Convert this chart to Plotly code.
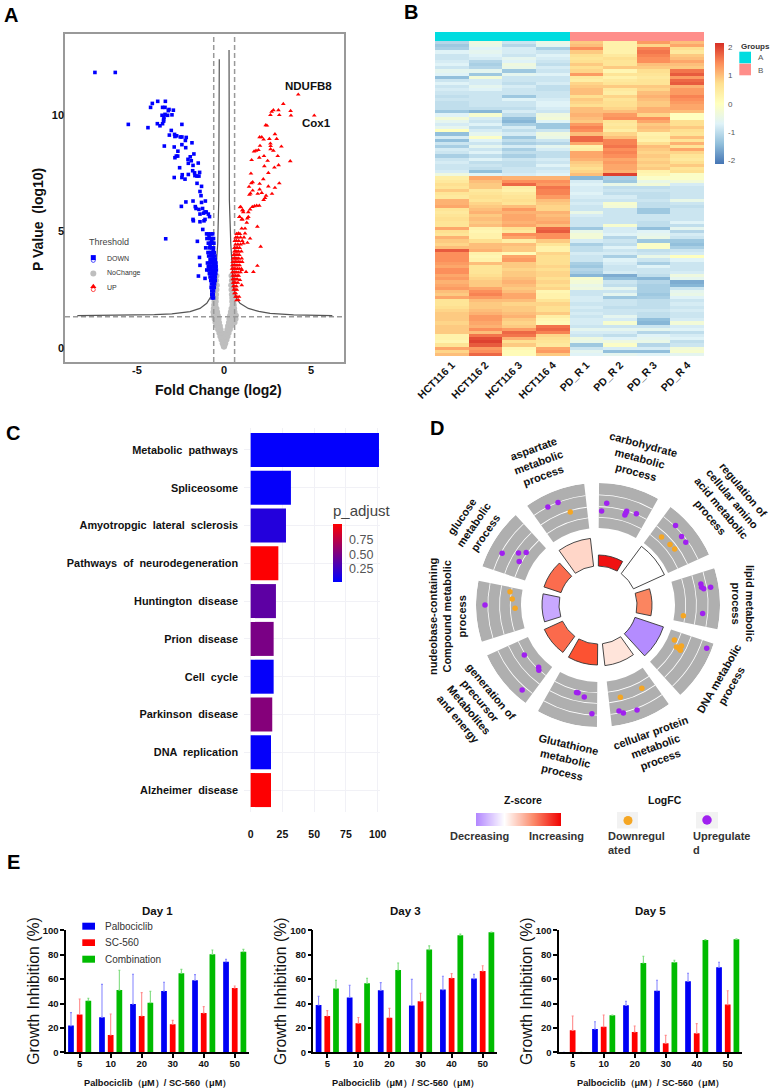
import numpy as np
import plotly.graph_objects as go

W, H = 775, 1091
FONT = "Liberation Sans"

# ---------- Panel A: volcano ----------
down_points = [
 (-7.42,11.83),(-6.25,11.83),(-3.81,10.59),(-3.37,10.59),(-4.12,10.50),(-4.22,10.33),(-3.53,10.33),(-3.39,10.33),
 (-3.16,10.24),(-2.91,10.21),(-3.20,10.19),(-3.39,10.03),(-3.56,9.99),(-3.24,9.99),(-2.99,10.01),(-3.45,9.90),
 (-3.47,9.81),(-3.47,9.74),(-3.83,9.63),(-3.68,9.54),(-3.53,9.63),(-2.42,9.60),(-5.50,9.60),(-4.37,9.46),
 (-3.03,9.34),(-3.14,9.14),(-2.84,9.17),(-2.82,9.08),(-2.72,9.11),(-2.51,9.06),(-2.42,9.06),(-2.17,9.04),
 (-2.22,8.91),(-1.84,8.81),(-2.42,8.73),(-3.43,8.67),(-2.86,8.63),(-2.20,8.60),(-2.65,8.45),(-1.73,8.33),
 (-2.66,8.24),(-2.74,8.24),(-2.82,8.17),(-1.94,8.21),(-2.07,8.10),(-1.88,8.04),(-2.05,7.93),(-1.48,7.94),
 (-1.78,7.84),(-2.55,7.74),(-1.80,7.61),(-1.40,7.54),(-1.69,7.52),(-2.40,7.44),(-2.05,7.45),(-1.67,7.40),
 (-1.55,7.38),(-1.44,7.38),(-2.86,7.32),(-2.42,7.32),(-2.24,7.25),(-1.55,7.07),(-1.29,6.94),(-1.38,6.72),
 (-1.32,6.54),(-1.07,6.31),(-1.78,6.31),(-1.29,6.25),(-2.19,6.27),(-2.45,6.08),(-1.65,6.07),(-1.61,5.99),
 (-1.44,5.95),(-1.23,5.99),(-1.09,5.84),(-1.02,5.84),(-1.38,5.75),(-1.17,5.79),(-0.90,5.75),(-0.83,5.64),
 (-1.78,5.52),(-1.09,5.52),(-1.76,5.46),(-1.38,5.42),(-1.15,5.46),(-1.22,5.09),(-3.35,4.69),(-1.53,4.58),
 (-1.41,3.89),(-1.38,3.55),(-1.47,3.09),(-1.09,2.99),(-0.99,3.35),
 (-1.00,4.90),(-0.90,4.90),(-0.75,4.90),(-0.65,4.90),(-0.98,4.70),(-0.82,4.70),(-0.70,4.70),(-0.60,4.70),
 (-0.90,4.50),(-0.78,4.50),(-0.66,4.50),(-0.58,4.50),(-1.05,4.30),(-0.85,4.30),(-0.72,4.30),(-0.60,4.30),
 (-0.92,4.10),(-0.78,4.10),(-0.68,4.10),(-0.56,4.10),(-0.88,3.95),(-0.70,3.95),(-0.62,3.95),(-0.52,3.95),
 (-0.80,3.80),(-0.72,3.80),(-0.64,3.80),(-0.55,3.80),(-0.50,3.80),(-0.95,3.65),(-0.84,3.65),(-0.74,3.65),
 (-0.62,3.65),(-0.52,3.65),(-0.46,3.65),(-0.90,3.50),(-0.78,3.50),(-0.70,3.50),(-0.60,3.50),(-0.50,3.50),
 (-0.45,3.50),(-0.88,3.35),(-0.76,3.35),(-0.68,3.35),(-0.58,3.35),(-0.50,3.35),(-0.44,3.35),(-0.84,3.20),
 (-0.72,3.20),(-0.62,3.20),(-0.55,3.20),(-0.47,3.20),(-0.80,3.05),(-0.70,3.05),(-0.60,3.05),(-0.50,3.05),
 (-0.76,2.90),(-0.66,2.90),(-0.58,2.90),(-0.50,2.90),(-0.72,2.75),(-0.62,2.75),(-0.54,2.75),(-0.74,2.60),
 (-0.62,2.60),(-0.56,2.60),(-0.70,2.45),(-0.60,2.45),(-0.70,2.30),(-0.62,2.30),(-0.68,2.15),(-0.60,2.15),
 (-0.86,4.82),(-0.72,4.60),(-0.80,4.40),(-0.62,4.20),(-0.75,4.02),(-0.68,3.72),(-0.58,3.58),(-0.80,3.42),
 (-0.66,3.28),(-0.54,3.12),(-0.64,2.98),(-0.58,2.82),
]
up_points = [
 (4.27,10.88),(5.19,9.98),(3.41,10.48),(3.13,10.21),(3.83,10.18),(2.84,10.21),(2.74,10.14),(2.67,10.00),
 (3.18,10.00),(3.85,9.98),(2.40,9.57),(2.47,9.55),(2.93,9.18),(2.05,9.05),(2.17,9.05),(2.28,8.95),(2.61,8.98),
 (3.03,8.98),(2.67,8.78),(2.07,8.68),(2.68,8.67),(3.30,8.65),(1.98,8.50),(1.84,8.47),(1.73,8.44),(2.84,8.47),
 (2.68,8.54),(3.09,8.24),(2.30,8.24),(2.03,8.17),(1.59,8.07),(2.51,8.04),(3.81,8.02),(2.32,7.81),(3.14,7.85),
 (2.90,7.75),(2.55,7.52),(1.55,7.49),(2.26,7.25),(1.65,7.12),(1.57,7.08),(2.05,7.05),(3.18,7.07),(1.44,6.92),
 (2.55,6.94),(2.05,6.81),(1.65,6.76),(2.93,6.88),(2.17,6.66),(1.52,6.64),(1.46,6.58),(1.94,6.62),(2.76,6.62),
 (2.42,6.54),(2.36,6.44),(2.28,6.36),(2.03,6.11),(1.88,6.11),(1.75,6.09),(1.63,6.06),(1.50,5.95),(1.40,5.83),
 (1.06,5.92),(0.96,6.06),(1.11,5.83),(0.90,5.63),(1.06,5.52),(1.40,5.63),(0.92,6.04),(1.08,5.92),(0.89,5.63),
 (1.02,5.52),(1.31,5.38),(1.34,5.56),(1.21,5.13),(1.02,5.13),(1.92,5.21),(0.83,4.92),(1.21,4.92),(1.50,4.70),
 (1.35,4.52),(2.11,4.35),(1.11,4.49),(1.92,3.53),(1.69,3.27),(1.27,3.27),(1.02,3.35),(0.92,2.92),(1.02,2.70),
 (0.87,2.20),(0.83,2.06),
 (0.72,4.90),(0.82,4.90),(0.92,4.90),(0.68,4.75),(0.78,4.75),(0.95,4.75),(1.15,4.75),(0.62,4.60),(0.72,4.60),
 (0.85,4.60),(1.05,4.60),(0.66,4.45),(0.80,4.45),(0.95,4.45),(0.60,4.30),(0.70,4.30),(0.78,4.30),(0.90,4.30),
 (0.60,4.15),(0.66,4.15),(0.74,4.15),(0.84,4.15),(1.00,4.15),(0.55,4.00),(0.62,4.00),(0.70,4.00),(0.80,4.00),
 (0.88,4.00),(0.52,3.85),(0.60,3.85),(0.68,3.85),(0.75,3.85),(0.85,3.85),(1.02,3.85),(0.50,3.70),(0.58,3.70),
 (0.66,3.70),(0.74,3.70),(0.82,3.70),(0.92,3.70),(1.05,3.70),(0.48,3.55),(0.56,3.55),(0.62,3.55),(0.70,3.55),
 (0.80,3.55),(0.90,3.55),(0.46,3.40),(0.54,3.40),(0.60,3.40),(0.68,3.40),(0.78,3.40),(0.88,3.40),(1.00,3.40),
 (0.48,3.25),(0.56,3.25),(0.64,3.25),(0.72,3.25),(0.82,3.25),(0.95,3.25),(0.50,3.10),(0.58,3.10),(0.66,3.10),
 (0.76,3.10),(0.85,3.10),(0.50,2.95),(0.56,2.95),(0.62,2.95),(0.70,2.95),(0.78,2.95),(0.52,2.80),(0.60,2.80),
 (0.68,2.80),(0.80,2.80),(0.54,2.65),(0.62,2.65),(0.72,2.65),(0.56,2.50),(0.64,2.50),(0.74,2.50),(0.60,2.35),
 (0.68,2.35),(0.66,2.20),(0.74,2.20),(0.72,2.05),
]
nochange_points = [
 (-0.02,0.05),(0.02,0.05),(-0.04,0.12),(0.04,0.12),(-0.09,0.2),(0,0.2),(0.09,0.2),(-0.16,0.35),(-0.08,0.35),(0,0.35),
 (0.08,0.35),(0.16,0.35),(-0.22,0.5),(-0.14,0.5),(-0.06,0.5),(0.06,0.5),(0.14,0.5),(0.22,0.5),(-0.28,0.65),(-0.2,0.65),
 (-0.12,0.65),(0.12,0.65),(0.2,0.65),(0.28,0.65),(-0.35,0.8),(-0.27,0.8),(-0.18,0.8),(0.18,0.8),(0.27,0.8),(0.35,0.8),
 (-0.42,0.95),(-0.32,0.95),(-0.22,0.95),(0.22,0.95),(0.32,0.95),(0.42,0.95),(-0.5,1.1),(-0.38,1.1),(-0.27,1.1),(0.27,1.1),
 (0.38,1.1),(0.5,1.1),(0.62,1.1),(-0.55,1.25),(-0.42,1.25),(-0.3,1.25),(0.3,1.25),(0.42,1.25),(0.55,1.25),(0.68,1.25),
 (-0.6,1.4),(-0.46,1.4),(-0.34,1.4),(0.34,1.4),(0.46,1.4),(0.6,1.4),(0.7,1.4),(-0.62,1.55),(-0.5,1.55),(-0.38,1.55),
 (0.38,1.55),(0.5,1.55),(0.62,1.55),(-0.6,1.7),(-0.52,1.7),(-0.42,1.7),(0.42,1.7),(0.52,1.7),(0.6,1.7),(-0.58,1.85),
 (-0.48,1.85),(0.48,1.85),(0.58,1.85),(-0.56,2.0),(-0.46,2.0),(0.46,2.0),(0.56,2.0),(-0.54,2.15),(-0.46,2.15),(0.46,2.15),
 (0.54,2.15),(-0.52,2.3),(-0.44,2.3),(0.44,2.3),(0.52,2.3),(-0.5,2.5),(-0.42,2.5),(0.42,2.5),(0.5,2.5),(-0.47,2.7),
 (-0.4,2.7),(0.4,2.7),(0.47,2.7),(-0.44,2.9),(0.44,2.9),(-0.42,3.1),(0.42,3.1),
]
curve_left_x = [-8.43,-6,-4,-3,-2.3,-1.95,-1.38,-0.99,-0.7,-0.51,-0.36,-0.3,-0.27]
curve_left_y = [1.39,1.40,1.43,1.47,1.52,1.56,1.70,1.92,2.27,2.77,4.49,6.35,12.4]
curve_right_x = [0.29,0.31,0.39,0.54,0.73,0.92,1.4,2.0,2.65,4,6.23]
curve_right_y = [12.79,6.35,4.49,2.63,2.13,1.92,1.70,1.57,1.49,1.42,1.39]
thresh_p = 1.34
thresh_fc = [-0.59, 0.61]

# ---------- Panel B: heat map ----------
samples = ["HCT116 1","HCT116 2","HCT116 3","HCT116 4","PD_R 1","PD_R 2","PD_R 3","PD_R 4"]
groups = [0,0,0,0,1,1,1,1]
col_hct1 = [-1.1,-1.3,-1.2,-0.7,-0.9,-0.9,-0.8,-0.7,-0.9,-0.6,
 -0.7,-1.4,-0.9,-0.7,-0.9,-0.8,-0.9,-1.0,-0.9,-1.0,
 -1.0,-1.0,-1.3,-0.7,-0.3,-0.6,-0.8,-0.6,0.0,-1.4,
 -0.8,-1.4,-0.9,-1.2,-0.8,-0.9,-1.2,-0.9,-0.8,-0.9,
 -0.9,-0.8,-0.4,
 0.4,0.5,0.7,0.6,0.9,0.6,0.5,1.1,1.1,1.2,
 0.6,0.5,0.6,0.7,0.6,0.6,1.2,0.7,0.6,1.1,
 0.9,0.8,1.0,1.8,1.4,1.4,1.4,1.3,1.2,1.4,
 1.4,1.2,1.3,1.1,1.2,1.3,1.0,0.9,1.2,0.6,
 0.6,0.7,0.8,0.9,0.9,0.9,0.8,0.9,0.9,0.9,
 0.3,0.3,0.2,0.6,1.2,0.8,1.0]
col_hct2 = [-0.4,-0.5,-0.7,-0.6,-0.7,-0.8,-1.1,-1.2,-1.1,-0.6,
 -1.3,-0.3,-0.8,-0.8,-0.6,-0.7,-0.9,-0.9,-0.9,-0.9,
 -0.9,-1.0,-1.5,-0.2,-0.8,-0.9,-0.7,-1.0,-0.8,-0.6,
 -0.1,-0.7,-0.9,-0.6,-0.9,-0.7,-1.0,-0.7,-1.0,-0.9,
 -1.0,-1.4,-0.7,
 1.2,1.0,0.9,0.9,0.5,0.6,0.7,0.6,0.8,0.9,
 1.0,1.1,0.9,1.0,0.9,1.0,0.3,0.2,0.3,0.3,
 0.7,1.0,1.0,1.1,0.3,0.2,0.3,1.0,0.6,0.6,
 0.6,0.7,0.8,0.9,0.9,1.2,1.4,1.5,1.3,1.0,
 0.9,0.9,1.0,1.1,1.3,1.3,1.2,1.1,1.4,1.0,
 1.6,1.9,2.0,1.8,1.3,1.4,1.7]
col_hct3 = [-0.9,-1.1,-0.8,-0.8,-0.9,-0.6,-0.7,-0.4,-0.5,-1.3,
 -0.6,-0.9,-0.9,-1.0,-0.8,-0.9,-0.9,-1.3,-0.7,-0.9,
 -0.9,-1.0,-0.8,-1.0,-1.4,-1.5,-1.2,-0.8,-1.0,-0.8,
 -1.3,-1.0,-1.2,-0.8,-1.2,-1.0,-1.2,-0.9,-1.0,-1.0,
 -0.9,-0.9,-0.8,
 1.1,1.4,1.7,0.4,0.3,0.5,0.6,0.7,0.6,1.0,
 1.3,1.1,1.2,1.2,1.1,1.2,0.7,0.5,1.4,1.2,
 0.4,1.0,0.9,0.9,0.1,1.2,1.3,0.9,0.9,0.8,
 0.9,0.9,1.0,1.1,1.0,0.9,1.0,1.2,1.2,1.0,
 0.8,0.9,0.9,1.0,1.1,0.9,0.8,0.9,1.3,1.7,
 1.6,1.1,0.7,0.9,0.2,0.1,0.1]
col_hct4 = [-0.5,-0.6,-1.2,-0.9,-0.7,-0.8,-0.9,-1.0,-0.8,-0.9,
 -0.7,-0.9,-0.9,-0.8,-1.0,-1.0,-0.9,-0.9,-0.8,-0.7,
 -0.7,-0.8,-0.9,-0.4,-0.3,-0.7,-1.3,-1.3,-0.9,-0.4,
 -0.5,-0.9,-1.1,-0.6,-0.8,-1.0,-1.0,-0.8,-0.9,-0.7,
 -0.9,-0.8,-0.7,
 1.1,1.4,1.3,1.6,1.5,1.5,1.3,1.0,0.9,0.8,
 0.8,1.1,1.0,1.1,1.2,1.0,1.7,1.8,1.4,1.4,
 0.9,0.6,0.3,0.3,0.8,0.7,0.7,0.7,0.8,0.7,
 0.8,0.8,0.7,0.8,0.7,0.8,0.2,0.3,0.3,0.6,
 0.8,0.7,0.7,0.9,0.4,0.2,0.1,1.6,1.7,1.5,
 0.8,0.7,0.6,0.5,1.2,1.3,0.9]
col_pd1 = [0.9,1.0,1.4,0.9,0.7,0.6,0.7,0.9,0.7,0.8,
 1.3,0.5,0.4,0.8,0.9,1.0,1.0,0.7,0.9,0.8,
 0.7,1.0,1.0,1.1,1.0,0.9,1.3,1.5,1.4,1.0,
 1.7,1.7,1.2,0.3,0.4,1.2,1.2,1.1,0.9,0.8,
 0.7,0.8,1.0,
 -1.5,-0.8,-0.7,-0.8,-0.8,-0.7,-0.8,-0.9,-0.8,-0.9,
 -0.9,-0.5,-0.8,-0.9,-0.9,-0.9,-1.3,-0.5,-0.3,-0.3,
 -0.8,-1.2,-1.0,-1.0,-0.8,-0.9,-0.9,-1.2,-1.3,-1.1,
 -1.2,-1.5,-0.2,-0.3,-0.5,-0.4,-0.9,-0.9,-0.8,-0.8,
 -0.9,-0.8,-0.9,-0.8,-0.9,-0.8,-0.8,-0.9,-0.6,-0.8,
 -0.9,-0.4,-0.5,-1.3,-0.9,-0.6,-0.7]
col_pd2 = [0.3,0.3,0.3,0.3,0.5,0.7,0.6,0.6,0.9,0.2,
 0.6,0.3,0.5,0.6,0.9,0.5,0.4,0.8,0.6,0.7,
 0.7,0.8,1.0,1.3,1.4,0.6,0.5,0.6,0.4,0.8,
 1.0,1.5,1.5,1.6,1.4,1.5,1.4,1.2,1.3,1.2,
 1.2,1.1,2.0,
 -1.2,-1.3,-0.5,-1.0,-0.9,-1.0,-0.8,-0.9,-0.2,-0.3,
 -0.9,-0.9,-0.9,-0.9,-0.9,-0.2,-0.8,-0.8,-0.7,-1.1,
 -0.9,-1.0,-0.7,-0.9,-0.8,-1.2,-0.7,-0.8,-0.9,-0.9,
 -0.8,-1.6,-1.4,-0.9,-1.0,-0.6,-0.9,-0.6,-1.3,-0.9,
 -0.9,-1.0,-0.9,-0.9,-0.6,-0.8,-0.2,-0.9,-0.6,-0.8,
 -1.0,-0.7,-0.4,-0.1,-0.8,-1.4,-0.6]
col_pd3 = [1.3,0.8,1.5,1.6,1.5,1.4,1.4,1.0,0.9,0.7,
 0.6,0.5,0.6,0.6,0.9,0.8,1.0,1.1,1.0,0.9,
 0.9,1.1,1.1,0.8,1.4,1.2,0.9,1.0,0.9,0.3,
 0.4,0.3,0.7,1.0,0.9,0.8,0.9,0.8,0.9,0.8,
 0.9,0.3,0.2,
 -0.1,-0.5,-0.3,-1.0,-0.9,-1.0,-1.0,-0.9,-1.0,-1.0,
 -1.3,-1.3,-0.9,-0.9,-1.0,-1.0,-1.4,-0.7,-0.6,-0.5,
 -1.3,-0.1,-0.1,-1.0,-0.9,-0.5,-0.9,-1.2,-0.7,-0.9,
 -0.9,-1.0,-1.5,-1.1,-1.2,-1.2,-1.2,-1.3,-1.2,-1.0,
 -1.0,-1.0,-0.9,-1.0,-1.0,-1.4,-1.5,-0.9,-0.6,-1.1,
 -0.7,-0.6,-0.5,-1.1,-0.8,-1.4,-0.7]
col_pd4 = [1.0,1.2,0.7,0.5,0.9,1.0,1.2,1.0,0.9,1.6,
 1.8,1.3,1.7,1.8,1.1,1.3,1.3,1.5,1.4,1.3,
 1.2,1.2,1.0,0.0,0.0,0.7,0.7,0.9,0.7,0.6,
 1.0,0.6,1.1,0.6,1.2,0.8,0.6,0.5,0.7,0.9,
 0.6,0.7,-0.1,
 -0.1,-0.3,-0.8,-0.9,-0.9,-0.9,-0.9,-0.5,-0.9,-1.0,
 -0.9,-0.9,-0.9,-0.9,-0.7,-1.0,-0.6,-1.1,-0.8,-0.9,
 -1.3,-1.4,-1.2,-0.9,-0.8,0.0,-0.7,-0.9,-0.9,-0.9,
 -0.8,-0.4,-0.6,-1.6,-1.5,-0.9,-0.6,-0.5,-0.7,-0.9,
 -0.8,-0.9,-0.8,-0.9,-0.9,-0.8,-0.3,-0.8,-0.7,-1.0,
 -0.8,-0.7,-1.0,-0.9,-0.3,-0.2,-0.6]

# ---------- Panel C ----------
pathways = ["Metabolic  pathways","Spliceosome","Amyotropgic  lateral  sclerosis","Pathways  of  neurodegeneration",
            "Huntington  disease","Prion  disease","Cell  cycle","Parkinson  disease","DNA  replication","Alzheimer  disease"]
path_counts = [101,31.7,27.8,21.8,19.9,18.1,18.1,17,16,16]
path_padj = [0.02,0.03,0.15,1.02,0.38,0.5,0.03,0.54,0.03,1.02]

# ---------- Panel D ----------
go_centres = [15,51,87,123,159,195,231,267,303,339]
go_zscore_r = [50,73,54,69,61,60,59,56,57,67]
go_zscore_col = ["#F01212","#FFFFFF","#FB8560","#B48CFF","#FFE4DA","#FC5232","#FB6A4C","#C8A8FF","#FB6C4E","#FFD6C8"]
go_labels = [("carbohydrate<br>metabolic<br>process",640,458,15),
             ("regulation of<br>cellular amino<br>acid metabolic<br>process",727,503,50),
             ("lipid metabolic<br>process",743,603,90),
             ("DNA metabolic<br>process",725,682,-60),
             ("cellular protein<br>metabolic<br>process",655,746,-20),
             ("Glutathione<br>metabolic<br>process",565,758,13),
             ("generation of<br>precursor<br>Metabolites<br>and energy",475,705,50),
             ("nudeobase-containing<br>Compound metabolic<br>process",447,617,-90),
             ("glucose<br>metabolic<br>process",473,525,-55),
             ("aspartate<br>metabolic<br>process",538,463,-20)]
ring_arcs = [87.3,98,109.7]
up_r = [102,94,98,96,94,99,111,108,108,105,105,107,114,105,117,112,108,111,90,90,93,109,89,86,88,114,113,109,95,89,90,110,110]
up_t = [4.9,2.2,17,16.8,16.6,22.8,44.3,50.7,54.4,78.5,80.3,81.2,81.1,94.7,111.7,159.6,168.8,166.8,193.8,192.8,188.5,183.2,235.9,223.7,222.2,221.7,270,298.4,303.2,306.2,298.9,332.9,338.7]
dn_r = [93,94,95,86,84,89,92,93,94,94,95,89,86,83,97]
dn_t = [43.1,50,53.8,97.1,114.6,118.2,118.2,116.1,118.8,152.2,166.4,278.6,274,267.7,343.4]
zscore_scale = [-1,-0.5,0,0.5,1,1.5,2]

# ---------- Panel E ----------
doses = ["5","10","20","30","40","50"]
d1_p = [21.9,28.7,39.6,50.3,59,74.3];  d1_p_t = [32.5,55.7,64,57.4,63.7,76.2]
d1_s = [31,14.2,29.8,23,32.2,52.7];    d1_s_t = [43.7,31.4,48.9,26.2,37.4,54.4]
d1_c = [42.3,51,40.7,64.8,80.3,82.5];  d1_c_t = [44.3,67.2,50,68,83.9,84.4]
d3_p = [38.8,45,50.8,38.3,51.4,60.4];  d3_p_t = [45.9,54.9,57.1,59.8,62.3,63.9]
d3_s = [29.8,23.8,28.4,41.8,60.9,66.7]; d3_s_t = [34.2,28.5,36,48.4,64.5,71]
d3_c = [52.2,56.6,67.5,84.2,95.9,98.4]; d3_c_t = [59,60.7,73.2,87.2,97,98.6]
d5_p = [0,19.1,38.5,50.5,58.2,69.7];   d5_p_t = [0,25.1,41.8,59,64.8,73.8]
d5_s = [18,21,16.7,7.4,15.6,39.1];     d5_s_t = [29.8,30.6,21.6,13.9,23.5,50.5]
d5_c = [0,30.3,73.2,73.8,92.1,92.6];   d5_c_t = [0,30.5,78.7,75.4,92.4,93]


def dx(a, b): return [a / W, b / W]
def dy(top, bottom): return [1 - bottom / H, 1 - top / H]

annotations, shapes = [], []
def ann(x, y, text, size=10, bold=True, color="#111", angle=0, anchor="center"):
    annotations.append(dict(x=x / W, y=1 - y / H, xref="paper", yref="paper", text=text, showarrow=False,
                            xanchor=anchor, yanchor="middle", textangle=angle, align="center" if anchor == "center" else "left",
                            font=dict(family=FONT, size=size, color=color, weight=700 if bold else 400)))
def box(x0, y0, x1, y1, color, layer="above"):
    shapes.append(dict(type="rect", xref="paper", yref="paper", x0=x0 / W, x1=x1 / W, y0=1 - y0 / H, y1=1 - y1 / H,
                       fillcolor=color, line=dict(width=0), layer=layer))

fig = go.Figure()
tickb = lambda s: dict(family=FONT, size=s, color="#111", weight=700)

# A
gx, gy = zip(*nochange_points); bx, by = zip(*down_points); rx, ry = zip(*up_points)
fig.add_trace(go.Scatter(x=gx, y=gy, mode="markers", marker=dict(color="#BEBEBE", size=5.5), xaxis="x", yaxis="y", showlegend=False))
for v in thresh_fc:
    fig.add_trace(go.Scatter(x=[v, v], y=[-0.6, 13.48], mode="lines", line=dict(color="#999", width=1.5, dash="5px,3px"), xaxis="x", yaxis="y", showlegend=False))
fig.add_trace(go.Scatter(x=[-9.14, 6.9], y=[thresh_p, thresh_p], mode="lines", line=dict(color="#999", width=1.5, dash="5px,3px"), xaxis="x", yaxis="y", showlegend=False))
fig.add_trace(go.Scatter(x=curve_left_x, y=curve_left_y, mode="lines", line=dict(color="#555", width=1.2), xaxis="x", yaxis="y", showlegend=False))
fig.add_trace(go.Scatter(x=curve_right_x, y=curve_right_y, mode="lines", line=dict(color="#555", width=1.2), xaxis="x", yaxis="y", showlegend=False))
fig.add_trace(go.Scatter(x=bx, y=by, mode="markers", marker=dict(color="#0000FF", size=3.6, symbol="square"), xaxis="x", yaxis="y", showlegend=False))
fig.add_trace(go.Scatter(x=rx, y=ry, mode="markers", marker=dict(color="#FF0000", size=4.2, symbol="triangle-up"), xaxis="x", yaxis="y", showlegend=False))

# B
heat = np.array([col_hct1, col_hct2, col_hct3, col_hct4, col_pd1, col_pd2, col_pd3, col_pd4]).T
rd = [[0, "#4575B4"], [1/6, "#91BFDB"], [2/6, "#E0F3F8"], [3/6, "#FFFFBF"], [4/6, "#FEE090"], [5/6, "#FC8D59"], [1, "#D73027"]]
fig.add_trace(go.Heatmap(z=heat, x=samples, colorscale=rd, zmin=-2.13, zmax=2.13, xaxis="x2", yaxis="y2",
    colorbar=dict(x=715 / W, xanchor="left", xpad=0, ypad=0, y=1 - 103.8 / H, yanchor="middle", thickness=8.5, lenmode="pixels", len=121,
                  tickvals=[-2, -1, 0, 1, 2], ticktext=["-2", "-1", "0", "1", "2"], ticks="outside", ticklen=3, tickcolor="rgba(0,0,0,0)", outlinewidth=0,
                  tickfont=dict(family=FONT, size=8, color="#555"))))
fig.add_trace(go.Heatmap(z=[groups], x=samples, colorscale=[[0, "#00DCE0"], [1, "#FF8E8A"]], showscale=False, xaxis="x3", yaxis="y3"))

# C
fig.add_trace(go.Bar(y=pathways, x=path_counts, orientation="h", xaxis="x4", yaxis="y4", showlegend=False, width=0.9,
    marker=dict(color=path_padj, cmin=0.01, cmax=1.03, colorscale=[[0, "#0000FF"], [1, "#FF0000"]], line=dict(width=0),
                colorbar=dict(x=333 / W, xanchor="left", xpad=0, ypad=0, y=1 - 542 / H, yanchor="middle", thickness=9, lenmode="pixels", len=80,
                              tickvals=[0.25, 0.5, 0.75], ticktext=["0.25", "0.50", "0.75"], ticks="outside", ticklen=5, tickcolor="rgba(0,0,0,0)",
                              outlinewidth=0, tickfont=dict(family=FONT, size=12.5, color="#555"),
                              title=dict(text="p_adjust", side="top", font=dict(family=FONT, size=15, color="#444"))))))

# D
n = len(go_centres)
fig.add_trace(go.Barpolar(theta=go_centres, r=[45] * n, base=[77] * n, width=[29] * n, marker=dict(color="#AFAFAF", line=dict(width=0)), subplot="polar", showlegend=False))
for a in ring_arcs:
    fig.add_trace(go.Barpolar(theta=go_centres, r=[0.8] * n, base=[a] * n, width=[29] * n, marker=dict(color="#FFFFFF", line=dict(width=0)), subplot="polar", showlegend=False))
fig.add_trace(go.Barpolar(theta=go_centres, r=[v - 39 for v in go_zscore_r], base=[39] * n, width=[29] * n,
                          marker=dict(color=go_zscore_col, line=dict(width=0.9, color="#333")), subplot="polar", showlegend=False))
fig.add_trace(go.Scatterpolar(theta=up_t, r=up_r, mode="markers", marker=dict(color="#A020F0", size=5.5), subplot="polar", showlegend=False))
fig.add_trace(go.Scatterpolar(theta=dn_t, r=dn_r, mode="markers", marker=dict(color="#F5A623", size=5.5), subplot="polar", showlegend=False))
fig.add_trace(go.Heatmap(z=[zscore_scale], x=zscore_scale, zsmooth="best", zmin=-1, zmax=2, showscale=False, xaxis="x8", yaxis="y8",
                         colorscale=[[0, "#B388FF"], [1/3, "#FFFFFF"], [2/3, "#FB8A6A"], [1, "#F00000"]]))

# E
def err(top, val): return (np.array(top) - np.array(val)).round(1).tolist()
palette = {"P": ("#0000F5", "#8C8CFF"), "S": ("#FF0000", "#FF8C8C"), "C": ("#00BB00", "#80DD80")}
days = [("x5", "y5", d1_p, d1_p_t, d1_s, d1_s_t, d1_c, d1_c_t),
        ("x6", "y6", d3_p, d3_p_t, d3_s, d3_s_t, d3_c, d3_c_t),
        ("x7", "y7", d5_p, d5_p_t, d5_s, d5_s_t, d5_c, d5_c_t)]
for xa, ya, p, pt, s, st, c, ct in days:
    for key, name, v, t in (("P", "Palbociclib", p, pt), ("S", "SC-560", s, st), ("C", "Combination", c, ct)):
        fig.add_trace(go.Bar(x=doses, y=v, name=name, xaxis=xa, yaxis=ya, showlegend=False, marker=dict(color=palette[key][0], line=dict(width=0)),
                             error_y=dict(type="data", symmetric=False, array=err(t, v), arrayminus=[0] * 6, color=palette[key][1], thickness=1.1, width=1)))

# legend keys (panel A and D) on a full-page helper axis
fig.add_trace(go.Scatter(x=[93.3], y=[257.6], mode="markers", marker=dict(color="#0000FF", size=5, symbol="square"), xaxis="x9", yaxis="y9", showlegend=False))
fig.add_trace(go.Scatter(x=[93.3], y=[260.4], mode="markers", marker=dict(color="rgba(0,0,0,0)", size=4, line=dict(color="#0000FF", width=0.7)), xaxis="x9", yaxis="y9", showlegend=False))
fig.add_trace(go.Scatter(x=[93.3], y=[273.5], mode="markers", marker=dict(color="#BEBEBE", size=6), xaxis="x9", yaxis="y9", showlegend=False))
fig.add_trace(go.Scatter(x=[93.3], y=[286.6], mode="markers", marker=dict(color="#FF0000", size=5.5, symbol="triangle-up"), xaxis="x9", yaxis="y9", showlegend=False))
fig.add_trace(go.Scatter(x=[93.3], y=[289.6], mode="markers", marker=dict(color="rgba(0,0,0,0)", size=4, line=dict(color="#FF0000", width=0.7)), xaxis="x9", yaxis="y9", showlegend=False))
box(617, 812, 638, 828.5, "#F2F2F2", "below"); box(696, 812, 718, 828.5, "#F2F2F2", "below")
fig.add_trace(go.Scatter(x=[628], y=[820.5], mode="markers", marker=dict(color="#F5A623", size=9, symbol="circle"), xaxis="x9", yaxis="y9", showlegend=False))
fig.add_trace(go.Scatter(x=[707], y=[820], mode="markers", marker=dict(color="#A020F0", size=9.5, symbol="circle"), xaxis="x9", yaxis="y9", showlegend=False))

# texts
for t, x, y in (("A", 11, 15), ("B", 411, 12), ("C", 13, 433), ("D", 437, 428), ("E", 13, 862)):
    ann(x, y, t, size=20, color="#000")
ann(38, 220, "P Value  (log10)", size=14, angle=-90)
ann(218, 390, "Fold Change (log2)", size=14)
ann(308, 86, "NDUFB8", size=11.5); ann(316, 123, "Cox1", size=11.5)
ann(86.7, 242, "Threshold", size=9, bold=False, color="#444", anchor="left")
for label, yy in (("DOWN", 258.7), ("NoChange", 273.3), ("UP", 287.3)):
    ann(105, yy, label, size=7, bold=False, color="#333", anchor="left")
ann(739.3, 46.7, "Groups", size=8, color="#333", anchor="left")
box(739.3, 51.7, 751, 63.3, "#00DCE0"); box(739.3, 63.7, 751, 75.3, "#FF8E8A")
ann(755.7, 57.5, "A", size=8, bold=False, color="#555", anchor="left")
ann(755.7, 70, "B", size=8, bold=False, color="#555", anchor="left")
for text, x, y, a in go_labels:
    ann(x, y, text, size=11, angle=a)
ann(523, 800, "Z-score", size=10.5); ann(665, 800, "LogFC", size=10.5)
ann(479, 836, "Decreasing", size=11, color="#333"); ann(556, 836, "Increasing", size=11, color="#333")
ann(606, 843, "Downregul<br>ated", size=11, color="#333", anchor="left")
ann(691, 843, "Upregulate<br>d", size=11, color="#333", anchor="left")
for x0, title in ((157, "Day 1"), (405, "Day 3"), (650, "Day 5")):
    ann(x0, 910.7, title, size=11.5)
for x0 in (157, 405, 650):
    ann(x0, 1083, "Palbociclib（μM）/ SC-560（μM）", size=9.2)
for x0 in (32.7, 280, 526):
    ann(x0, 991, "Growth Inhibition (%)", size=15.8, bold=False, angle=-90)
box(82.3, 922.7, 95, 929.7, palette["P"][0]); box(82.3, 939.3, 95, 946, palette["S"][0]); box(82.3, 955.7, 95, 962.7, palette["C"][0])
for label, yy in (("Palbociclib", 926), ("SC-560", 942.7), ("Combination", 959)):
    ann(102.7, yy, label, size=10, bold=False, color="#333", anchor="left")

off = dict(visible=False, showgrid=False, zeroline=False)
def eaxes(left, right):
    xa = dict(domain=dx(left, right), type="category", range=[-0.45, 5.47], showline=True, linecolor="#000", linewidth=1.5, ticks="outside",
              ticklen=3.5, tickwidth=1.5, tickcolor="#000", tickfont=tickb(9.5), ticklabelstandoff=-2, showgrid=False, zeroline=False)
    ya = dict(domain=dy(930.3, 1052.3), range=[0, 100], tickvals=[0, 20, 40, 60, 80, 100], showline=True, linecolor="#000", linewidth=1.5, ticks="outside",
              ticklen=3.5, tickwidth=1.5, tickcolor="#000", tickfont=tickb(9.5), showgrid=False, zeroline=False)
    return xa, ya
x5, y5 = eaxes(65.7, 249.3); x6, y6 = eaxes(313.3, 497.3); x7, y7 = eaxes(558.7, 742.3)
y5["anchor"] = "x5"; y6["anchor"] = "x6"; y7["anchor"] = "x7"; x5["anchor"] = "y5"; x6["anchor"] = "y6"; x7["anchor"] = "y7"

fig.update_layout(
    width=W, height=H, margin=dict(l=0, r=0, t=0, b=0, autoexpand=False), paper_bgcolor="#FFFFFF", plot_bgcolor="rgba(0,0,0,0)",
    font=dict(family=FONT), barmode="group", bargap=0.16, bargroupgap=0.34, annotations=annotations, shapes=shapes,
    xaxis=dict(domain=dx(65, 344), range=[-9.14, 6.9], tickvals=[-5, 0, 5], ticktext=["-5", "0", "5"], tickfont=tickb(11), ticklabelstandoff=-3, showgrid=False, zeroline=False,
               ticks="", mirror=True, showline=True, linecolor="#999", linewidth=1.5, anchor="y"),
    yaxis=dict(domain=dy(34, 362), range=[-0.6, 13.48], tickvals=[0, 5, 10], tickfont=tickb(11), ticklabelstandoff=-3, showgrid=False, zeroline=False,
               ticks="", mirror=True, showline=True, linecolor="#999", linewidth=1.5, anchor="x"),
    xaxis2=dict(domain=dx(435, 704.3), range=[-0.5, 7.5], tickangle=-45, tickfont=tickb(10.5), showgrid=False, zeroline=False, ticks="", anchor="y2"),
    yaxis2=dict(domain=dy(41, 356), range=[99.5, -0.5], visible=False, anchor="x2"),
    xaxis3=dict(domain=dx(435, 704.3), range=[-0.5, 7.5], visible=False, anchor="y3"),
    yaxis3=dict(domain=dy(32, 41), range=[-0.5, 0.5], visible=False, anchor="x3"),
    xaxis4=dict(domain=dx(244.3, 380), range=[-5, 101.8], tickvals=[0, 25, 50, 75, 100], tickfont=tickb(10.5), showgrid=True, gridcolor="#F1F1F6", gridwidth=1,
                zeroline=False, ticks="outside", ticklen=12, tickcolor="rgba(0,0,0,0)", anchor="y4"),
    yaxis4=dict(domain=dy(428, 812), type="category", categoryorder="array", categoryarray=pathways, range=[9.58, -0.58], tickfont=tickb(10.9),
                showgrid=True, gridcolor="#F1F1F6", zeroline=False, ticks="outside", ticklen=3, tickcolor="rgba(0,0,0,0)", anchor="x4"),
    xaxis5=x5, yaxis5=y5, xaxis6=x6, yaxis6=y6, xaxis7=x7, yaxis7=y7,
    xaxis8=dict(domain=dx(476, 561), range=[-1, 2], **off, anchor="y8"),
    yaxis8=dict(domain=dy(813, 826), range=[-0.5, 0.5], **off, anchor="x8"),
    xaxis9=dict(domain=[0, 1], range=[0, W], **off, anchor="y9"),
    yaxis9=dict(domain=[0, 1], range=[H, 0], **off, anchor="x9"),
    polar=dict(domain=dict(x=dx(598 - 122, 598 + 122), y=dy(605 - 122, 605 + 122)), bgcolor="rgba(0,0,0,0)", barmode="overlay", bargap=0,
               radialaxis=dict(range=[0, 122], visible=False), angularaxis=dict(direction="clockwise", rotation=90, visible=False, thetaunit="degrees")),
)
fig.write_html("out.html", config=dict(displayModeBar=False),
               post_script="document.body.style.margin='0';document.body.style.overflow='hidden';")
